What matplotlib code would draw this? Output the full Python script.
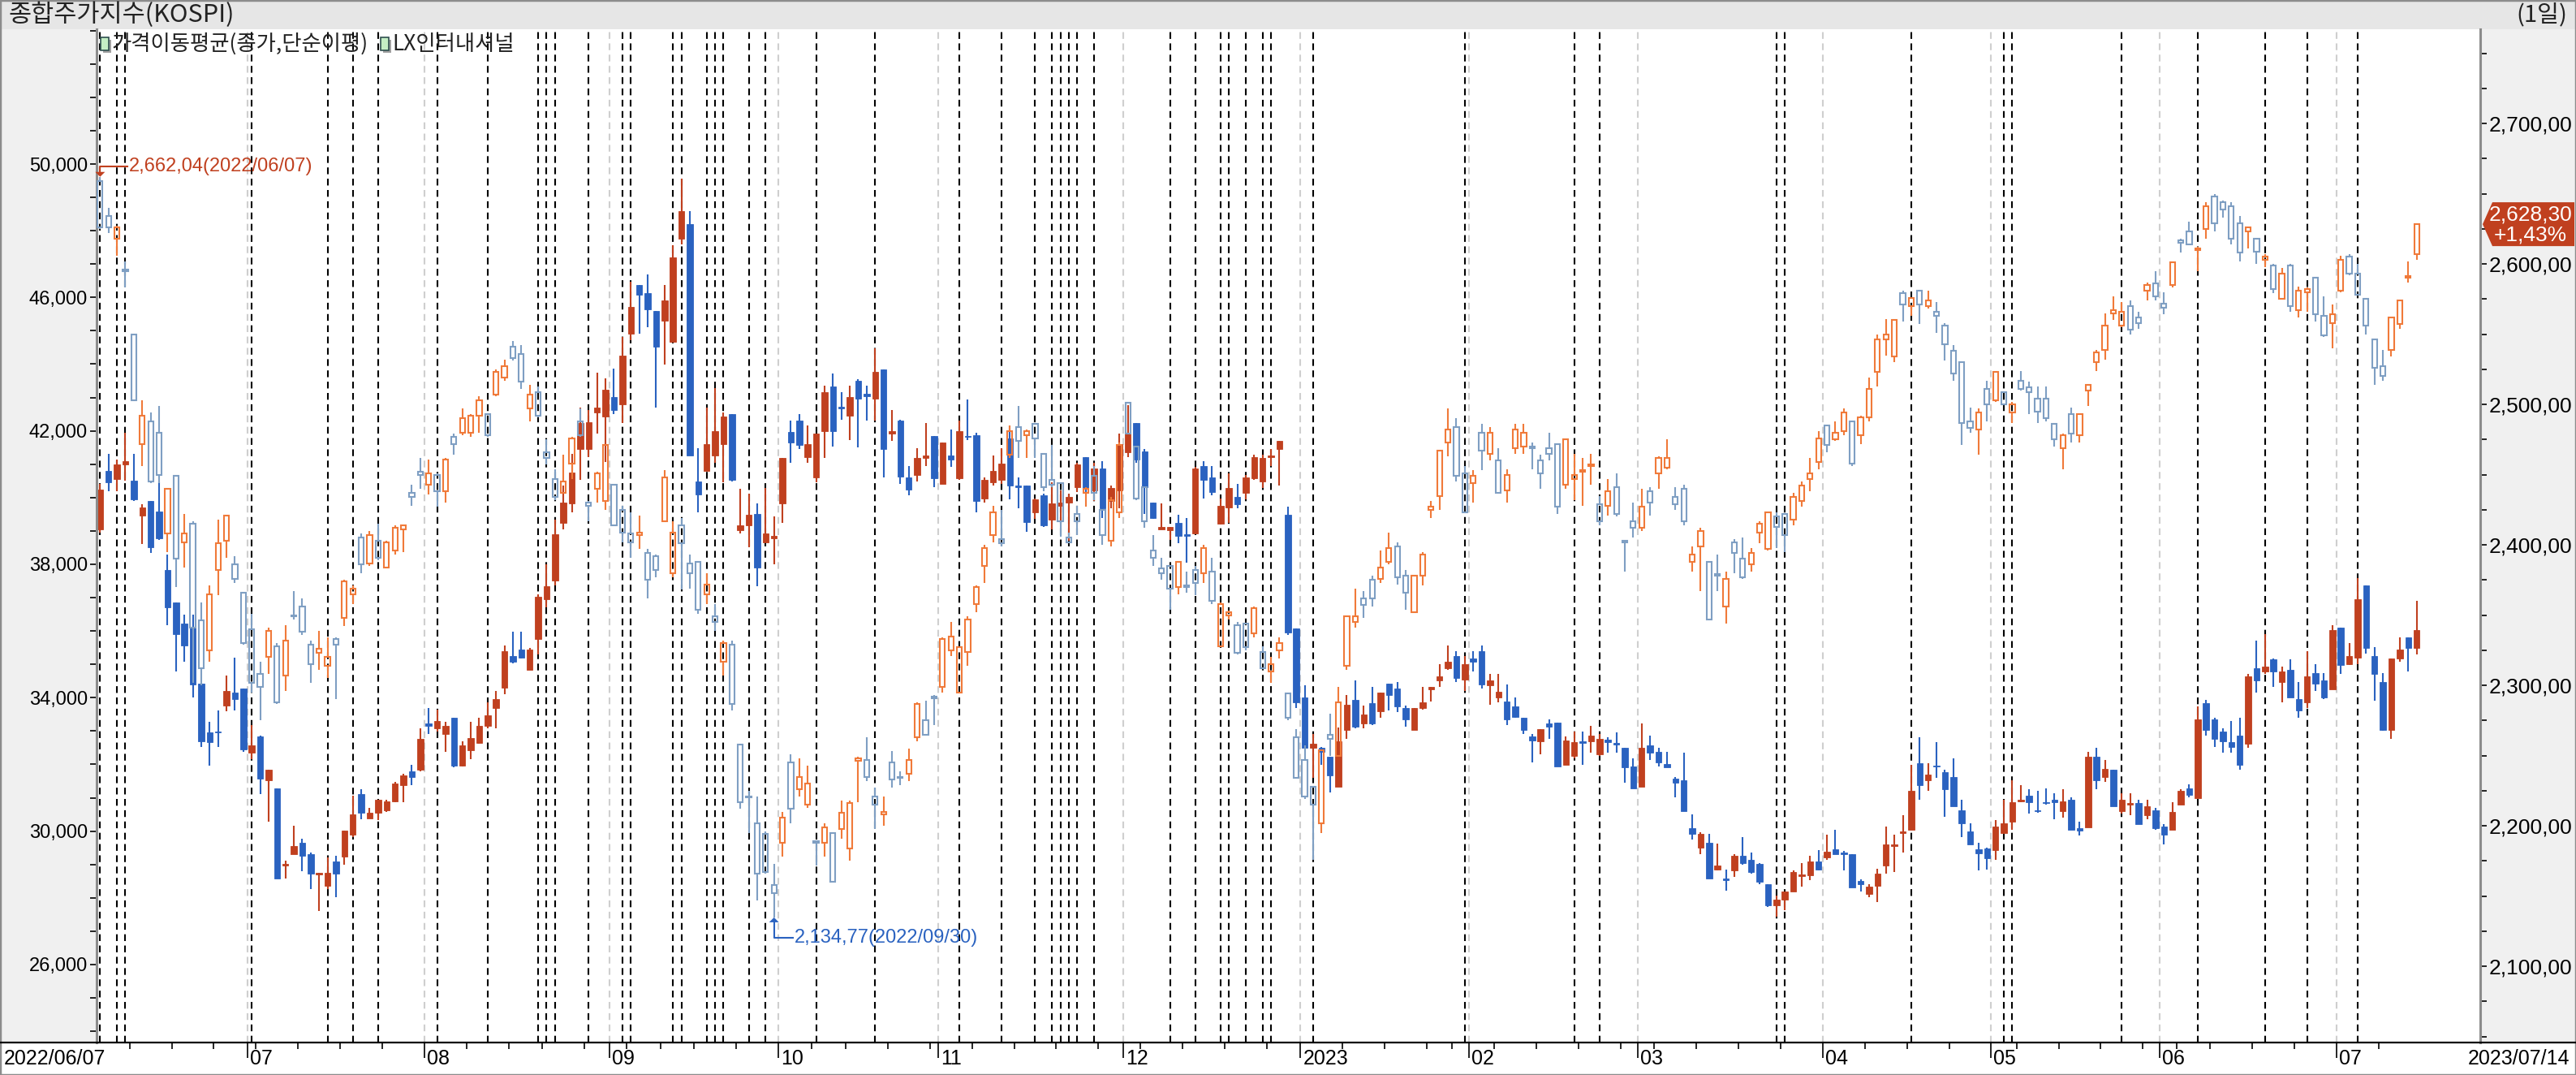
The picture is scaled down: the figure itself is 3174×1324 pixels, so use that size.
import numpy as np
import pandas as pd
import matplotlib
matplotlib.use('Agg')
import matplotlib.pyplot as plt
from matplotlib import transforms
from matplotlib.patches import Rectangle, Polygon
from matplotlib.lines import Line2D
from matplotlib.ticker import FixedLocator

W, H, DPI = 3174, 1324, 100
plt.rcParams['lines.scale_dashes'] = False
NARROW = ['Liberation Sans Narrow', 'Liberation Sans', 'DejaVu Sans']
KR = ['Noto Sans CJK KR', 'DejaVu Sans']
plt.rcParams['font.family'] = NARROW

# colours
LX_UP, LX_DN = '#C0401F', '#2A62C0'
KS_UP, KS_DN = '#F07A3A', '#7F9FC3'

# ---- data -------------------------------------------------------------
krx_holidays = ['2022-08-15', '2022-09-09', '2022-09-12', '2022-10-03', '2022-10-10',
                '2022-12-30', '2023-01-23', '2023-01-24', '2023-03-01', '2023-05-01',
                '2023-05-05', '2023-05-29', '2023-06-06']

# LX인터내셔널 (open, high, low, close), left axis
lx_ohlc = [
    (39050, 40400, 38950, 40250), (40800, 41300, 40200, 40450), (40550, 41150, 40200, 41000), (40990, 41950, 40500, 41100), (40500, 41300, 39900, 39950),
    (39450, 39800, 38600, 39700), (39900, 39900, 38350, 38500), (39580, 40450, 38740, 38770), (37840, 38300, 36180, 36720), (36850, 36850, 34780, 35900),
    (36230, 36490, 35090, 35560), (36100, 36490, 34000, 34400), (34430, 34430, 32530, 32690), (32970, 33280, 31960, 32660), (32990, 33620, 32530, 32950),
    (33770, 34670, 33590, 34200), (34160, 35200, 33620, 33960), (34270, 34270, 32380, 32450), (32350, 33180, 32150, 32560), (32840, 32870, 31100, 31570),
    (31520, 31830, 30280, 31830), (31290, 31290, 28570, 28570), (28960, 29120, 28570, 29010), (29320, 30170, 29300, 29540), (29650, 29770, 28800, 29270),
    (29320, 29350, 28260, 28730), (28690, 28750, 27600, 28750), (28370, 29200, 28260, 28760), (29090, 29270, 28030, 28730), (29240, 30020, 28990, 30020),
    (29890, 31060, 29820, 30510), (31100, 31250, 30360, 30550), (30390, 30700, 30390, 30560), (30560, 30950, 30330, 30930), (30620, 30950, 30580, 30900),
    (30900, 31480, 30860, 31420), (31370, 31710, 30860, 31680), (31800, 31990, 31370, 31630), (31830, 33070, 31800, 32760), (33220, 33700, 32920, 33150),
    (33080, 33650, 32990, 33310), (32920, 33280, 32380, 33150), (33390, 33390, 31910, 31960), (31960, 32690, 31940, 32560), (32420, 33280, 32150, 32800),
    (32640, 33390, 32610, 33150), (33150, 33850, 33080, 33460), (33700, 34210, 33080, 33960), (34290, 35560, 34110, 35400), (35250, 35980, 35040, 35090),
    (35450, 35980, 35170, 35200), (34830, 35480, 34830, 35450), (35760, 37110, 35290, 37030), (36960, 37990, 36720, 37350), (37500, 39330, 37370, 38900),
    (39240, 40370, 39050, 39860), (39830, 41300, 39550, 40760), (41460, 42700, 40520, 42230), (41460, 42620, 41220, 42260), (42540, 43740, 41920, 42700),
    (42430, 43580, 41070, 43240), (43010, 43860, 42500, 42620), (42800, 44820, 42230, 44250), (44920, 46470, 44720, 45720), (46380, 46380, 44920, 46070),
    (46140, 46690, 45100, 45650), (45600, 45600, 42700, 44520), (45290, 46380, 43990, 45910), (44670, 47560, 44670, 47200), (47770, 49570, 47590, 48600),
    (48210, 48600, 41250, 41250), (40490, 41490, 39550, 40090), (40790, 42700, 40790, 41610), (41250, 43270, 41040, 42000), (41610, 42540, 40450, 42430),
    (42500, 42500, 40480, 40520), (39020, 40260, 38930, 39170), (39170, 40110, 38500, 39490), (39520, 39830, 37340, 37890), (38660, 40290, 38660, 38930),
    (38770, 39440, 38000, 38850), (39830, 41180, 39240, 41180), (41970, 42310, 41040, 41660), (42310, 42500, 41460, 41580), (41220, 42160, 41040, 41610),
    (40600, 41920, 40450, 41920), (41990, 43360, 41190, 43160), (43320, 43710, 41530, 41990), (42730, 43160, 42340, 42680), (42460, 43360, 41720, 43010),
    (43510, 43550, 41500, 42960), (43120, 43360, 42310, 43050), (42960, 44480, 42310, 43780), (43830, 43830, 40600, 41460), (41910, 42620, 41690, 42000),
    (42310, 42340, 40420, 40630), (40600, 40940, 40060, 40250), (40680, 41490, 40480, 41180), (41190, 42230, 40940, 41250), (41840, 41840, 40320, 40570),
    (40400, 41660, 40400, 41660), (41250, 42030, 40910, 41150), (40570, 42310, 40520, 41990), (41840, 42930, 41720, 41810), (41870, 41950, 39550, 39900),
    (39980, 40600, 39860, 40520), (40450, 41250, 40370, 40790), (40530, 41490, 40420, 41020), (41770, 42160, 39950, 40370), (40360, 40600, 39670, 40320),
    (40370, 40370, 38970, 39270), (39550, 39980, 39360, 39950), (40060, 40110, 39130, 39170), (39330, 40450, 39050, 39830), (39750, 40210, 39280, 39860),
    (39860, 40110, 38710, 40010), (40320, 41040, 40170, 40990), (41220, 41220, 40170, 40290), (40210, 41040, 39900, 40880), (40880, 41100, 39390, 39670),
    (39900, 40370, 39670, 40290), (40210, 41920, 39670, 41610), (41350, 42780, 41220, 41920), (42230, 42230, 41040, 41150), (41380, 41460, 39520, 40320),
    (39860, 39860, 39360, 39390), (39050, 39830, 39050, 39130), (39020, 39130, 38740, 39130), (39240, 39490, 38620, 38860), (38890, 39390, 38040, 38850),
    (38930, 40910, 38900, 40880), (40950, 41100, 39980, 40530), (40600, 40940, 40060, 40170), (39210, 39980, 39180, 39750), (39700, 40730, 39240, 40290),
    (40010, 40420, 39670, 39800), (40140, 40680, 39950, 40600), (40570, 41280, 40530, 41220), (40480, 41280, 40290, 41190), (41220, 41460, 40940, 41270),
    (41460, 41690, 40370, 41690), (39480, 39720, 35870, 35950), (36070, 36070, 33700, 33850), (34010, 34360, 32500, 32500), (32500, 32920, 31600, 32610),
    (32500, 32530, 31990, 32380), (32220, 32220, 31170, 31680), (31320, 33110, 31320, 32690), (33030, 34090, 32770, 33780), (33930, 34520, 33080, 33120),
    (33230, 33770, 33080, 33500), (33840, 34320, 33180, 33230), (33590, 34160, 33390, 34160), (34430, 34430, 33620, 34090), (34270, 34470, 33570, 33740),
    (33700, 33770, 33120, 33340), (33030, 33700, 33030, 33700), (33700, 34320, 33650, 33850), (34240, 34320, 33880, 34320), (34520, 35010, 34320, 34630),
    (34890, 35560, 34830, 35090), (35250, 35400, 34470, 34580), (34550, 35250, 34210, 35010), (35170, 35400, 34780, 35090), (35400, 35560, 34270, 34400),
    (34360, 34710, 33780, 34520), (34010, 34710, 33850, 34180), (33880, 34400, 33180, 33340), (33740, 34010, 33390, 33430), (33390, 33390, 32920, 33030),
    (32840, 32920, 32070, 32720), (32690, 33050, 32300, 33050), (33230, 33340, 32770, 33120), (33260, 33260, 31940, 31940), (31990, 32840, 31990, 32720),
    (32250, 32990, 32190, 32660), (32690, 32990, 31990, 32640), (32690, 33150, 32350, 32870), (32300, 32920, 32250, 32770), (32750, 32810, 32350, 32660),
    (32640, 32970, 32350, 32590), (32490, 32490, 31450, 31910), (31940, 32190, 31290, 31290), (31320, 33230, 31320, 32500), (32580, 32870, 32140, 32350),
    (32380, 32500, 31940, 32070), (32000, 32380, 31910, 31910), (31570, 31630, 31010, 31440), (31520, 32350, 30590, 30590), (30080, 30510, 29740, 29920),
    (29500, 29970, 29300, 29920), (29660, 29920, 28570, 28570), (28840, 29620, 28810, 28960), (28570, 28840, 28220, 28530), (28810, 29300, 28620, 29270),
    (29270, 29820, 29000, 29040), (29150, 29350, 28730, 28780), (29020, 29040, 28420, 28470), (28420, 28420, 27720, 27780), (27780, 28060, 27440, 27940),
    (27950, 28190, 27640, 28190), (28190, 28810, 28190, 28780), (28650, 29040, 28340, 28710), (28680, 29270, 28530, 29090), (29090, 29430, 28810, 28840),
    (29200, 29890, 29150, 29370), (29460, 30050, 29300, 29300), (29350, 29400, 28810, 29320), (29320, 29320, 28310, 28310), (28500, 28560, 28190, 28420),
    (28110, 28420, 28030, 28340), (28370, 28880, 27880, 28730), (28960, 30130, 28730, 29610), (29550, 29890, 28780, 29610), (29930, 30480, 29350, 30000),
    (30050, 31990, 30050, 31210), (32040, 32810, 30950, 31370), (31520, 32040, 31210, 31690), (31970, 32660, 31600, 31940), (31760, 31830, 30440, 31260),
    (31630, 32190, 30750, 30750), (30620, 30950, 29820, 30240), (30000, 30240, 29610, 29610), (29460, 29660, 28810, 29340), (29470, 29500, 28840, 29180),
    (29430, 30330, 29150, 30130), (29940, 30950, 29920, 30240), (30280, 31520, 30050, 30860), (30900, 31370, 30860, 30950), (31060, 31260, 30520, 30860),
    (30620, 31210, 30550, 30590), (30860, 31290, 30800, 30830), (30950, 31140, 30360, 30860), (30590, 31260, 30410, 30900), (30950, 31010, 30050, 30050),
    (30080, 30280, 29860, 30020), (30110, 32380, 30110, 32220), (32220, 32490, 31260, 31520), (31630, 32140, 31480, 31860), (31830, 31830, 30750, 30750),
    (30590, 31140, 30520, 30950), (30800, 31140, 30480, 30840), (30830, 30950, 30200, 30200), (30480, 30950, 30360, 30750), (30620, 30700, 30050, 30080),
    (30130, 30200, 29610, 29890), (30050, 30860, 30050, 30570), (30790, 31260, 30790, 31210), (31290, 31410, 31010, 31090), (30980, 33740, 30980, 33340),
    (33840, 33930, 32870, 33030), (33340, 33390, 32530, 32770), (32990, 33070, 32350, 32690), (32660, 33310, 32350, 32530), (32870, 33390, 31830, 31990),
    (32610, 34710, 32500, 34630), (34890, 35710, 34160, 34520), (34780, 35910, 34710, 34940), (35140, 35170, 34320, 34780), (34470, 34940, 33850, 34780),
    (34830, 35140, 34010, 34010), (33960, 34470, 33390, 33620), (33850, 35400, 33700, 34630), (34740, 35010, 34210, 34430), (34520, 34740, 33960, 34010),
    (34240, 36180, 34240, 36020), (36100, 36100, 34710, 34980), (35010, 35640, 34980, 35250), (35200, 37580, 35010, 36960), (37370, 37370, 35330, 35480),
    (35250, 35510, 33900, 34710), (34470, 34740, 33000, 33030), (33030, 35170, 32770, 35170), (35170, 35820, 35090, 35450), (35820, 35820, 34780, 35480),
    (35480, 36910, 35290, 36020),
]

# 종합주가지수 KOSPI (open, high, low, close), right axis
kospi_ohlc = [
    (2659, 2662.04, 2625, 2626), (2634, 2640, 2622, 2626), (2618, 2627, 2606, 2626), (2596, 2602, 2583, 2595), (2550, 2550, 2503, 2503),
    (2472, 2503, 2456, 2492), (2488, 2494, 2444, 2445), (2480, 2499, 2444, 2450), (2408, 2440, 2395, 2440), (2449, 2449, 2370, 2390),
    (2402, 2422, 2384, 2408), (2415, 2417, 2302, 2341), (2346, 2359, 2300, 2312), (2325, 2371, 2317, 2365), (2382, 2418, 2364, 2401),
    (2403, 2421, 2391, 2421), (2386, 2392, 2373, 2376), (2366, 2366, 2329, 2330), (2340, 2351, 2295, 2302), (2308, 2317, 2275, 2299),
    (2320, 2341, 2308, 2339), (2328, 2330, 2287, 2288), (2307, 2343, 2296, 2332), (2350, 2367, 2347, 2349), (2356, 2362, 2336, 2338),
    (2329, 2332, 2302, 2315), (2323, 2339, 2311, 2326), (2314, 2334, 2305, 2320), (2333, 2334, 2290, 2329), (2348, 2375, 2342, 2374),
    (2365, 2371, 2358, 2369), (2405, 2408, 2380, 2386), (2387, 2410, 2385, 2407), (2403, 2415, 2389, 2391), (2384, 2403, 2383, 2402),
    (2396, 2414, 2393, 2412), (2411, 2414, 2395, 2414), (2437, 2443, 2428, 2434), (2452, 2462, 2440, 2450), (2443, 2461, 2436, 2451),
    (2450, 2451, 2427, 2438), (2438, 2462, 2430, 2461), (2477, 2479, 2464, 2472), (2480, 2497, 2478, 2490), (2480, 2493, 2477, 2492),
    (2492, 2506, 2480, 2503), (2493, 2493, 2477, 2478), (2507, 2525, 2506, 2523), (2519, 2532, 2517, 2527), (2541, 2545, 2531, 2533),
    (2536, 2542, 2511, 2516), (2497, 2514, 2488, 2507), (2509, 2513, 2491, 2492), (2466, 2475, 2457, 2462), (2447, 2454, 2432, 2434),
    (2437, 2464, 2437, 2445), (2458, 2477, 2447, 2476), (2488, 2497, 2477, 2478), (2430, 2431, 2417, 2428), (2440, 2452, 2430, 2451),
    (2431, 2471, 2425, 2471), (2443, 2443, 2414, 2414), (2425, 2428, 2402, 2409), (2408, 2423, 2391, 2402), (2407, 2421, 2397, 2409),
    (2394, 2397, 2362, 2375), (2392, 2393, 2377, 2382), (2417, 2453, 2417, 2448), (2380, 2417, 2377, 2409), (2414, 2419, 2368, 2401),
    (2387, 2393, 2369, 2380), (2388, 2388, 2351, 2354), (2365, 2380, 2358, 2372), (2349, 2358, 2339, 2345), (2317, 2332, 2307, 2330),
    (2329, 2332, 2282, 2287), (2258, 2258, 2212, 2217), (2221, 2225, 2195, 2220), (2202, 2221, 2147, 2166), (2194, 2196, 2166, 2167),
    (2158, 2173, 2134.77, 2152), (2188, 2210, 2178, 2206), (2245, 2251, 2202, 2212), (2226, 2248, 2221, 2235), (2215, 2243, 2213, 2230),
    (2189, 2189, 2172, 2188), (2188, 2202, 2178, 2199), (2195, 2195, 2160, 2160), (2198, 2218, 2191, 2209), (2184, 2218, 2175, 2216),
    (2246, 2249, 2217, 2248), (2247, 2263, 2232, 2235), (2221, 2227, 2198, 2215), (2208, 2221, 2200, 2210), (2245, 2253, 2227, 2233),
    (2235, 2239, 2229, 2234), (2237, 2255, 2232, 2247), (2263, 2288, 2260, 2287), (2275, 2289, 2265, 2265), (2292, 2293, 2272, 2291),
    (2299, 2334, 2295, 2333), (2325, 2345, 2321, 2335), (2295, 2328, 2294, 2327), (2324, 2349, 2314, 2347), (2358, 2371, 2352, 2370),
    (2385, 2400, 2373, 2398), (2407, 2428, 2402, 2423), (2404, 2425, 2399, 2401), (2464, 2485, 2462, 2481), (2484, 2499, 2462, 2474),
    (2478, 2482, 2462, 2481), (2486, 2486, 2462, 2476), (2465, 2465, 2438, 2441), (2446, 2471, 2441, 2443), (2444, 2444, 2406, 2417),
    (2405, 2409, 2401, 2402), (2422, 2428, 2407, 2417), (2437, 2441, 2427, 2440), (2449, 2456, 2432, 2437), (2425, 2425, 2400, 2407),
    (2403, 2434, 2399, 2432), (2423, 2473, 2419, 2471), (2501, 2501, 2479, 2479), (2470, 2470, 2432, 2433), (2441, 2441, 2412, 2417),
    (2396, 2407, 2385, 2391), (2383, 2391, 2375, 2380), (2385, 2385, 2354, 2369), (2370, 2388, 2365, 2388), (2371, 2381, 2366, 2370),
    (2382, 2385, 2364, 2373), (2380, 2400, 2373, 2398), (2381, 2391, 2358, 2360), (2328, 2359, 2328, 2358), (2350, 2353, 2347, 2352),
    (2343, 2345, 2322, 2323), (2344, 2344, 2325, 2327), (2337, 2356, 2334, 2355), (2324, 2328, 2312, 2312), (2310, 2320, 2302, 2315),
    (2325, 2334, 2319, 2330), (2294, 2294, 2275, 2277), (2263, 2269, 2234, 2234), (2247, 2257, 2219, 2221), (2228, 2228, 2176, 2215),
    (2202, 2254, 2195, 2254), (2265, 2280, 2250, 2262), (2250, 2299, 2250, 2288), (2314, 2349, 2311, 2349), (2345, 2369, 2341, 2349),
    (2362, 2367, 2348, 2357), (2375, 2378, 2356, 2362), (2376, 2396, 2373, 2384), (2388, 2409, 2386, 2398), (2399, 2402, 2372, 2377),
    (2378, 2382, 2354, 2366), (2352, 2378, 2352, 2378), (2378, 2395, 2371, 2393), (2425, 2431, 2419, 2427), (2435, 2467, 2425, 2467),
    (2473, 2497, 2463, 2482), (2484, 2490, 2445, 2449), (2451, 2456, 2423, 2423), (2444, 2453, 2430, 2449), (2480, 2486, 2453, 2467),
    (2465, 2484, 2460, 2480), (2460, 2469, 2437, 2437), (2439, 2454, 2430, 2450), (2469, 2486, 2465, 2482), (2470, 2486, 2465, 2480),
    (2470, 2473, 2454, 2469), (2460, 2464, 2440, 2451), (2469, 2480, 2460, 2465), (2472, 2472, 2422, 2427), (2443, 2475, 2440, 2475),
    (2447, 2465, 2432, 2450), (2452, 2462, 2428, 2453), (2456, 2465, 2443, 2457), (2429, 2435, 2414, 2417), (2428, 2447, 2421, 2438),
    (2441, 2451, 2420, 2422), (2403, 2403, 2381, 2402), (2417, 2430, 2405, 2412), (2412, 2440, 2410, 2427), (2438, 2441, 2421, 2430),
    (2451, 2463, 2440, 2462), (2455, 2475, 2454, 2462), (2434, 2441, 2425, 2429), (2440, 2443, 2414, 2417), (2388, 2399, 2381, 2393),
    (2399, 2412, 2367, 2410), (2388, 2388, 2346, 2347), (2379, 2393, 2367, 2378), (2356, 2381, 2344, 2376), (2402, 2404, 2380, 2394),
    (2390, 2405, 2376, 2377), (2386, 2398, 2381, 2394), (2409, 2417, 2401, 2415), (2397, 2423, 2396, 2423), (2420, 2423, 2398, 2413),
    (2422, 2422, 2395, 2407), (2418, 2437, 2414, 2434), (2431, 2445, 2427, 2442), (2447, 2462, 2438, 2451), (2459, 2481, 2454, 2476),
    (2485, 2485, 2466, 2471), (2475, 2488, 2474, 2480), (2481, 2497, 2478, 2494), (2488, 2488, 2456, 2458), (2478, 2492, 2472, 2491),
    (2491, 2519, 2488, 2511), (2523, 2550, 2513, 2546), (2546, 2561, 2535, 2550), (2534, 2561, 2530, 2560), (2579, 2581, 2559, 2571),
    (2570, 2576, 2563, 2576), (2581, 2581, 2557, 2571), (2570, 2581, 2568, 2574), (2566, 2573, 2551, 2563), (2556, 2558, 2531, 2543),
    (2538, 2542, 2517, 2522), (2530, 2530, 2471, 2487), (2488, 2498, 2480, 2483), (2482, 2497, 2464, 2494), (2511, 2517, 2488, 2500),
    (2503, 2523, 2502, 2523), (2509, 2509, 2500, 2500), (2494, 2502, 2487, 2500), (2517, 2524, 2510, 2511), (2512, 2516, 2493, 2509),
    (2504, 2513, 2487, 2495), (2504, 2513, 2488, 2490), (2486, 2487, 2470, 2475), (2469, 2479, 2454, 2478), (2493, 2498, 2473, 2479),
    (2478, 2493, 2473, 2493), (2510, 2514, 2499, 2514), (2530, 2539, 2524, 2537), (2539, 2565, 2532, 2556), (2565, 2577, 2560, 2567),
    (2556, 2573, 2555, 2566), (2570, 2574, 2550, 2553), (2562, 2566, 2554, 2558), (2581, 2587, 2574, 2585), (2586, 2595, 2574, 2577),
    (2572, 2580, 2564, 2569), (2585, 2602, 2583, 2601), (2617, 2618, 2608, 2615), (2623, 2630, 2614, 2614), (2610, 2612, 2595, 2611),
    (2625, 2644, 2618, 2641), (2648, 2650, 2623, 2629), (2644, 2645, 2633, 2639), (2641, 2644, 2614, 2618), (2629, 2634, 2602, 2608),
    (2623, 2626, 2611, 2626), (2618, 2618, 2600, 2609), (2603, 2607, 2598, 2605), (2599, 2600, 2579, 2582), (2575, 2597, 2575, 2593),
    (2599, 2600, 2566, 2570), (2567, 2584, 2562, 2581), (2580, 2583, 2566, 2582), (2590, 2590, 2559, 2564), (2563, 2577, 2548, 2549),
    (2558, 2571, 2540, 2564), (2581, 2606, 2580, 2603), (2605, 2607, 2592, 2593), (2593, 2600, 2578, 2578), (2575, 2575, 2550, 2556),
    (2546, 2546, 2514, 2526), (2527, 2539, 2517, 2520), (2539, 2562, 2534, 2562), (2557, 2574, 2554, 2574), (2590, 2602, 2587, 2591.26),
    (2607, 2628.30, 2603, 2628.30),
]

# trading-day numbers marked with black dashed verticals
event_days = [0, 2, 3, 18, 27, 30, 33, 40, 46, 52, 53, 54, 58, 62, 63, 68, 69, 72, 73, 74,
              77, 79, 85, 92, 102, 107, 111, 113, 114, 115, 116, 118, 127, 130, 133, 134,
              136, 138, 139, 144, 162, 175, 178, 199, 200, 215, 226, 227, 240, 249, 257,
              262, 268]

lx_ticks = list(range(26000, 50001, 4000))
kospi_ticks = list(range(2100, 2701, 100))

# ---- layout helpers ---------------------------------------------------
def fx(px):
    return px / W


def fy(py):
    return 1 - py / H


def hts_num(v):
    # the terminal prints the decimal separator as a comma
    return f'{v:,.2f}'.replace('.', ',')


days = pd.bdate_range('2022-06-07', '2023-07-14')
days = days[~days.isin(pd.to_datetime(krx_holidays))]
n = len(days)

fig = plt.figure(figsize=(W / DPI, H / DPI), dpi=DPI, facecolor='white')
PL, PR, PT, PB = 119, 3056, 36, 1284
ax = fig.add_axes([fx(PL), fy(PB), fx(PR - PL), (PB - PT) / H])
ax2 = ax.twinx()

# side panels, header, border
fig.patches.append(Rectangle((0, fy(PB)), fx(PL), (PB - PT) / H, transform=fig.transFigure,
                             facecolor='#F0F0F0', edgecolor='none', zorder=-5))
fig.patches.append(Rectangle((fx(PR), fy(PB)), 1 - fx(PR), (PB - PT) / H, transform=fig.transFigure,
                             facecolor='#F0F0F0', edgecolor='none', zorder=-5))
fig.patches.append(Rectangle((0, fy(PT)), 1, PT / H, transform=fig.transFigure,
                             facecolor='#E6E6E6', edgecolor='none', zorder=-5))
fig.lines.append(Line2D([0, 1], [fy(PB), fy(PB)], transform=fig.transFigure, color='black', lw=1.6))
fig.patches.append(Rectangle((0, 0), 1, 1, transform=fig.transFigure, fill=False,
                             edgecolor='#8C8C8C', lw=2.5))


def draw_candles(axis, ohlc, up_col, dn_col, hollow):
    o, h, l, c = np.array(ohlc, dtype=float).T
    x = np.arange(len(o))
    up = c > o
    top, bot = np.maximum(o, c), np.minimum(o, c)
    col = np.where(up, up_col, dn_col)
    if hollow:
        axis.vlines(x, top, h, colors=col, lw=1.5, zorder=3)
        axis.vlines(x, l, bot, colors=col, lw=1.5, zorder=3)
        axis.bar(x, top - bot, bottom=bot, width=0.6, facecolor='none', edgecolor=col,
                 linewidth=1.5, zorder=3)
    else:
        axis.vlines(x, l, h, colors=col, lw=1.5, zorder=2)
        axis.bar(x, top - bot, bottom=bot, width=0.72, color=col, edgecolor=col,
                 linewidth=0.6, zorder=2)


draw_candles(ax, lx_ohlc, LX_UP, LX_DN, hollow=False)
draw_candles(ax2, kospi_ohlc, KS_UP, KS_DN, hollow=True)

# month / week boundaries
month_b = [i - 0.5 for i in range(1, n) if days[i].month != days[i - 1].month]
week_b = [i - 0.5 for i in range(1, n) if days[i].isocalendar()[1] != days[i - 1].isocalendar()[1]]
for b in month_b:
    ax.axvline(b, color='#CFCFCF', lw=1.5, ls=(0, (6, 4)), zorder=0.5)
for d in event_days:
    ax.axvline(d, color='black', lw=1.5, ls=(0, (6, 4)), zorder=0.6)

ax.set_xlim(-0.42, 282.55)
ax.set_ylim(23661, 54041)
ax2.set_ylim(2045.7, 2767.1)

# y axes
ax.set_yticks(lx_ticks)
ax.set_yticklabels([f'{v:,}' for v in lx_ticks])
ax.yaxis.set_minor_locator(FixedLocator(range(24000, 54001, 1000)))
ax.tick_params(axis='y', which='both', direction='out', length=6, width=1.2, labelsize=17, pad=2)
ax2.set_yticks(kospi_ticks)
ax2.set_yticklabels([hts_num(v) for v in kospi_ticks])
ax2.yaxis.set_minor_locator(FixedLocator(np.arange(2050, 2776, 25)))
ax2.tick_params(axis='y', which='both', direction='out', length=6, width=1.2, labelsize=19, pad=2)

# x axis
ax.set_xticks(month_b)
ax.set_xticks(week_b, minor=True)
ax.tick_params(axis='x', which='major', direction='out', length=14, width=1.2, labelbottom=False)
ax.tick_params(axis='x', which='minor', direction='out', length=6, width=1.2)
lab_off = transforms.ScaledTranslation(3 / DPI, -8 / DPI, fig.dpi_scale_trans)
for i in range(1, n):
    if days[i].month != days[i - 1].month:
        lab = str(days[i].year) if days[i].month == 1 else f'{days[i].month:02d}'
        ax.text(i - 0.5, 0, lab, transform=ax.get_xaxis_transform() + lab_off,
                ha='left', va='top', fontsize=18)
fig.text(fx(5), fy(1292), days[0].strftime('%Y/%m/%d'), ha='left', va='top', fontsize=18)
fig.text(fx(3166), fy(1292), days[-1].strftime('%Y/%m/%d'), ha='right', va='top', fontsize=18)

for s in ['top', 'right']:
    ax.spines[s].set_visible(False)
for s in ['top', 'left', 'bottom']:
    ax2.spines[s].set_visible(False)
ax.spines['left'].set_color('#8C8C8C')
ax.spines['left'].set_linewidth(2.2)
ax2.spines['right'].set_color('#8C8C8C')
ax2.spines['right'].set_linewidth(2.2)
ax.spines['bottom'].set_linewidth(1.2)

# header texts and legend
fig.text(fx(10), fy(18), '종합주가지수(KOSPI)', family=KR, fontsize=22, va='center', color='#222222')
fig.text(fx(3163), fy(18), '(1일)', family=KR, fontsize=21, va='center', ha='right', color='#222222')
for sx, label in [(124, '가격이동평균(종가,단순이평)'), (469, 'LX인터내셔널')]:
    fig.patches.append(Rectangle((fx(sx + 3), fy(65)), fx(10), 16 / H, transform=fig.transFigure,
                                 facecolor='#A0A0A0', edgecolor='none', zorder=5))
    fig.patches.append(Rectangle((fx(sx), fy(62)), fx(10), 16 / H, transform=fig.transFigure,
                                 facecolor='#C4EEC4', edgecolor='#2F4F4F', lw=1.2, zorder=6))
    fig.text(fx(sx + 14), fy(54), label, family=KR, fontsize=19, va='center', color='#222222', zorder=6)

# high / low annotations on the KOSPI series
ko = np.array(kospi_ohlc, dtype=float)
i_hi, i_lo = int(np.argmax(ko[:, 1])), int(np.argmin(ko[:, 2]))
to_fig = fig.transFigure.inverted()


def disp_poly(pts, **kw):
    fpts = to_fig.transform(np.array(pts, dtype=float))
    fig.patches.append(Polygon(fpts, closed=True, transform=fig.transFigure, **kw))


def disp_line(pts, **kw):
    fpts = to_fig.transform(np.array(pts, dtype=float))
    fig.lines.append(Line2D(fpts[:, 0], fpts[:, 1], transform=fig.transFigure, **kw))


hx, hy = ax2.transData.transform((i_hi, ko[i_hi, 1]))
disp_poly([(hx - 6, hy + 6), (hx + 6, hy + 6), (hx, hy)], facecolor=LX_UP, edgecolor='none', zorder=7)
disp_line([(hx, hy + 6), (hx, hy + 13), (hx + 34, hy + 13)], color=LX_UP, lw=1.5, zorder=7)
hf = to_fig.transform((hx + 36, hy + 13))
fig.text(hf[0], hf[1], f'{hts_num(ko[i_hi, 1])}({days[i_hi].strftime("%Y/%m/%d")})',
         color=LX_UP, fontsize=17, va='center', ha='left', zorder=7)

lx_, ly_ = ax2.transData.transform((i_lo, ko[i_lo, 2]))
disp_poly([(lx_ - 6, ly_ - 6), (lx_ + 6, ly_ - 6), (lx_, ly_)], facecolor=LX_DN, edgecolor='none', zorder=7)
disp_line([(lx_, ly_ - 6), (lx_, ly_ - 25), (lx_ + 23, ly_ - 25)], color=LX_DN, lw=1.5, zorder=7)
lf = to_fig.transform((lx_ + 25, ly_ - 25))
fig.text(lf[0], lf[1], f'{hts_num(ko[i_lo, 2])}({days[i_lo].strftime("%Y/%m/%d")})',
         color=LX_DN, fontsize=17, va='center', ha='left', zorder=7)

# last price tag
last, prev = ko[-1, 3], ko[-2, 3]
_, ty = ax2.transData.transform((n - 1, last))
disp_poly([(3059, ty), (3071, ty + 27), (3172, ty + 27), (3172, ty - 27), (3071, ty - 27)],
          facecolor='#C0401F', edgecolor='none', zorder=8)
t1 = to_fig.transform((3118, ty + 12))
t2 = to_fig.transform((3118, ty - 13))
pct = f'+{(last / prev - 1) * 100:.2f}%'.replace('.', ',')
fig.text(t1[0], t1[1], hts_num(last), color='white', fontsize=19, ha='center', va='center', zorder=9)
fig.text(t2[0], t2[1], pct, color='white', fontsize=19, ha='center', va='center', zorder=9)

fig.savefig('out.png', dpi=DPI)
